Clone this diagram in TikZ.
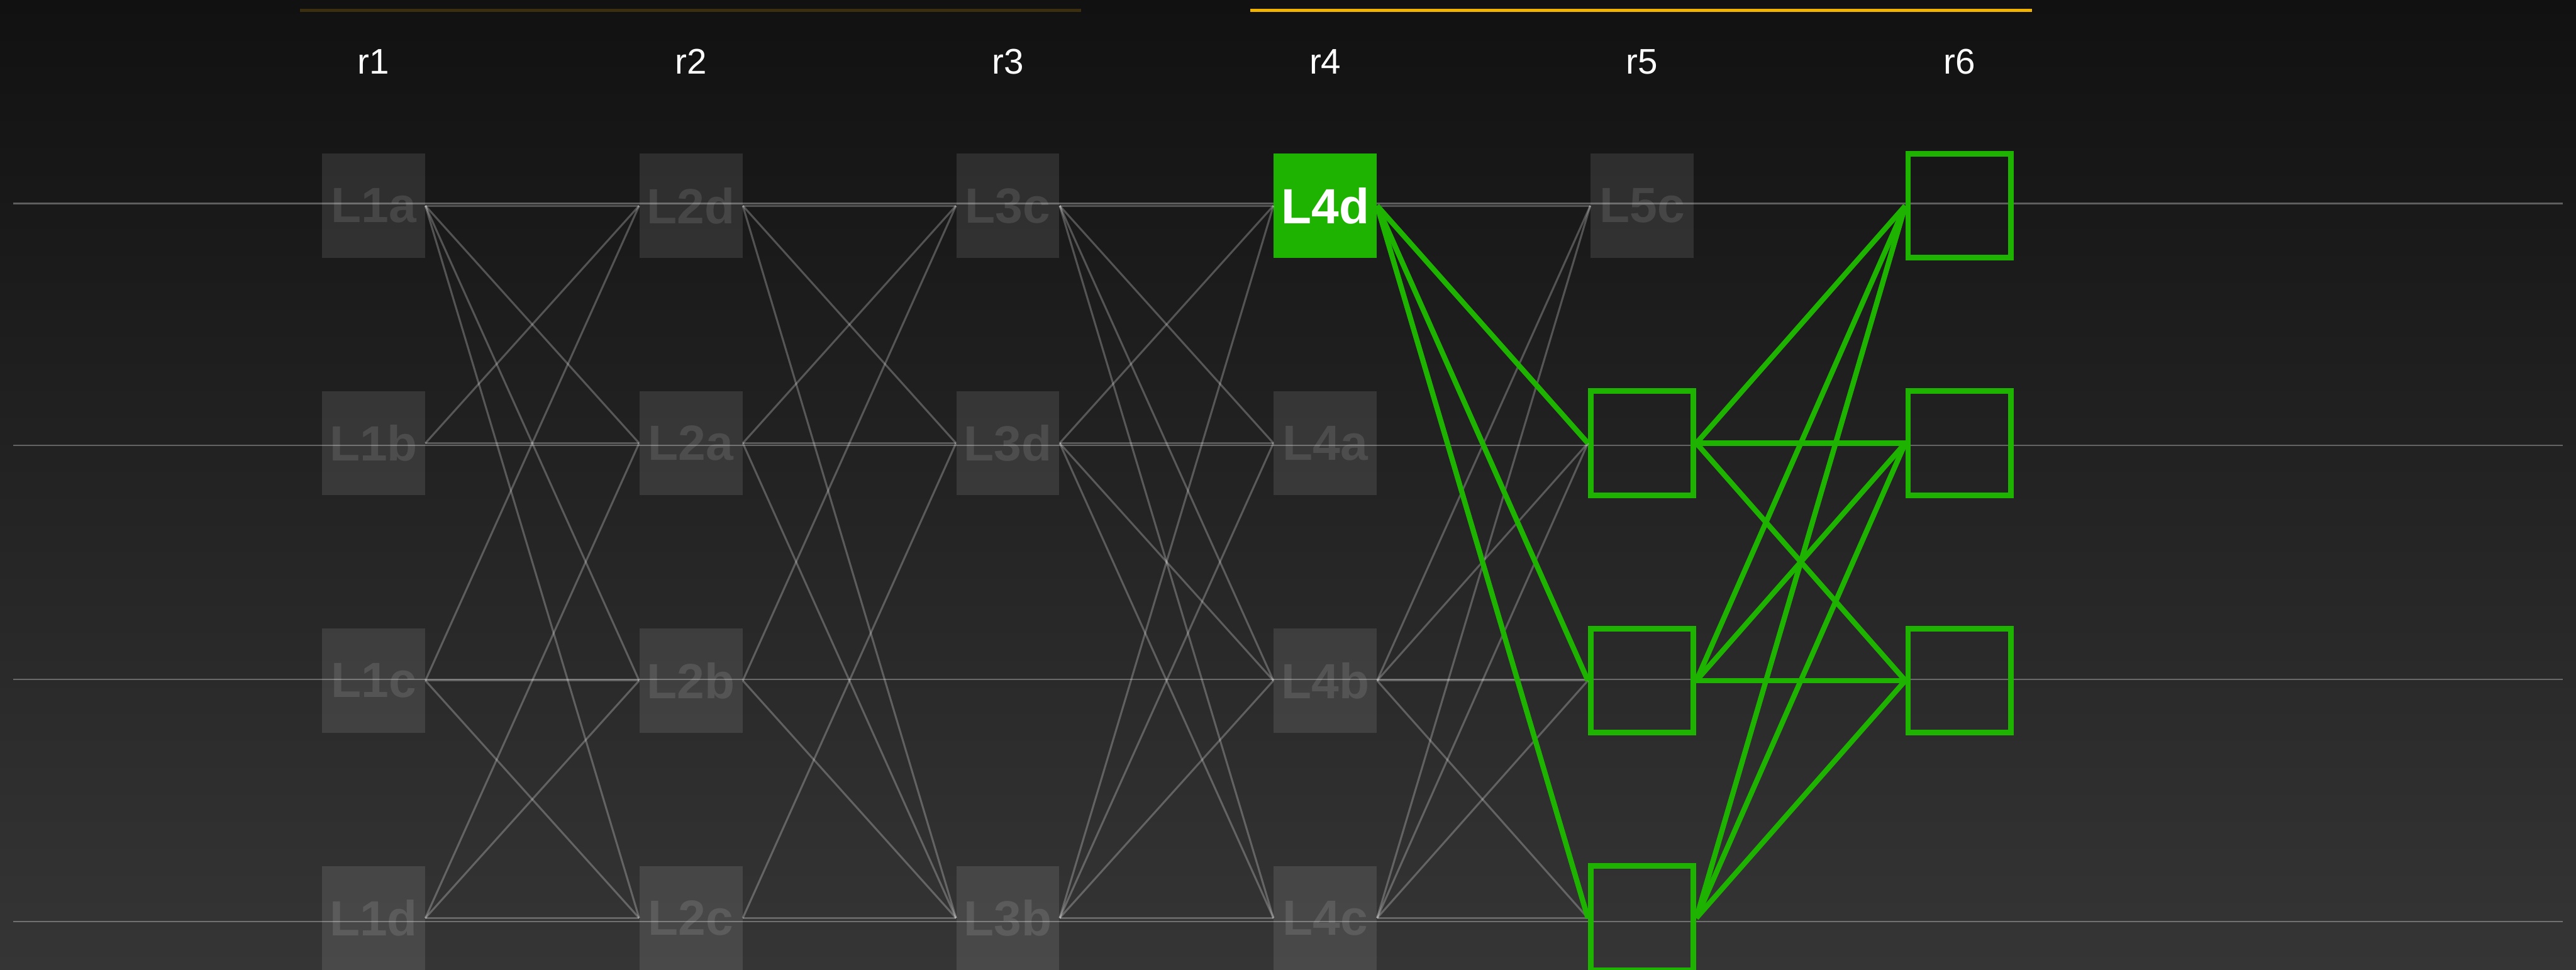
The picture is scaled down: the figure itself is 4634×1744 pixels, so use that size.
\documentclass[tikz,border=0pt]{standalone}
\usepackage{fontspec}
\setmainfont{Liberation Sans}
\definecolor{bgtop}{RGB}{17,17,17}
\definecolor{bgbot}{RGB}{53,53,53}
\definecolor{pick}{RGB}{29,179,0}
\definecolor{gold}{RGB}{242,178,0}
\definecolor{golddim}{RGB}{60,47,15}

\begin{document}
\begin{tikzpicture}[x=0.01cm,y=-0.01cm,
  cell/.style={minimum width=1.85cm,minimum height=1.87cm,inner sep=0pt,
    fill=white,fill opacity=0.1,text=white,text opacity=0.11,
    font=\fontsize{25.3}{26}\selectfont\bfseries},
  pickcell/.style={minimum width=1.85cm,minimum height=1.87cm,inner sep=0pt,
    fill=pick,text=white,font=\fontsize{25.3}{26}\selectfont\bfseries},
  ring/.style={minimum width=1.85cm,minimum height=1.87cm,inner sep=0pt,
    draw=pick,line width=2.85pt},
  head/.style={text=white,inner sep=0pt,font=\fontsize{18.2}{19}\selectfont},
  guide/.style={white,opacity=0.3,line width=0.7pt},
  link/.style={white,opacity=0.25,line width=1pt},
  hot/.style={pick,line width=2.7pt}]
  \useasboundingbox (0,0) rectangle (4634,1744);
  \shade[top color=bgtop,bottom color=bgbot] (0,0) rectangle (4634,1744);
  \foreach \y in {366,801,1222,1657} {
    \draw[guide] (24,\y) -- (4610,\y);
  }
  \draw[golddim,line width=1.42pt] (540,18.5) -- (1945,18.5);
  \draw[gold,line width=1.42pt] (2249,18.5) -- (3655,18.5);
  \foreach \x/\l in {672/r1, 1243/r2, 1813/r3, 2384/r4, 2954/r5, 3525/r6} {
    \node[head] (\l) at (\x,111) {\l};
  }
  \foreach \n/\x/\y in {L1a/672/370, L1b/672/797, L1c/672/1224, L1d/672/1651,
      L2d/1243/370, L2a/1243/797, L2b/1243/1224, L2c/1243/1651,
      L3c/1813/370, L3d/1813/797, L3b/1813/1651,
      L4a/2384/797, L4b/2384/1224, L4c/2384/1651, L5c/2954/370} {
    \node[cell] (\n) at (\x,\y) {\n};
  }
  \node[pickcell] (L4d) at (2384,370) {L4d};
  \foreach \n/\x/\y in {g5b/2954/797, g5c/2954/1224, g5d/2954/1651,
      g6a/3525/370, g6b/3525/797, g6c/3525/1224} {
    \node[ring] (\n) at (\x,\y) {};
  }
  \foreach \a/\b in {L1a/L2d, L1a/L2a, L1a/L2b, L1a/L2c, L1b/L2d, L1b/L2a,
      L1c/L2d, L1c/L2b, L1c/L2c, L1d/L2a, L1d/L2b, L1d/L2c,
      L2d/L3c, L2d/L3d, L2d/L3b, L2a/L3c, L2a/L3d, L2a/L3b,
      L2b/L3c, L2b/L3b, L2c/L3d, L2c/L3b,
      L3c/L4d, L3c/L4a, L3c/L4b, L3c/L4c, L3d/L4d, L3d/L4a, L3d/L4b, L3d/L4c,
      L3b/L4d, L3b/L4a, L3b/L4b, L3b/L4c,
      L4d/L5c, L4b/L5c, L4b/g5b, L4b/g5c, L4b/g5d,
      L4c/L5c, L4c/g5b, L4c/g5c, L4c/g5d} {
    \draw[link] (\a.east) -- (\b.west);
  }
  \foreach \a/\b in {L4d/g5b, L4d/g5c, L4d/g5d,
      g5b/g6a, g5b/g6b, g5b/g6c, g5c/g6a, g5c/g6b, g5c/g6c,
      g5d/g6a, g5d/g6b, g5d/g6c} {
    \draw[hot] (\a.east) -- (\b.west);
  }
\end{tikzpicture}
\end{document}
